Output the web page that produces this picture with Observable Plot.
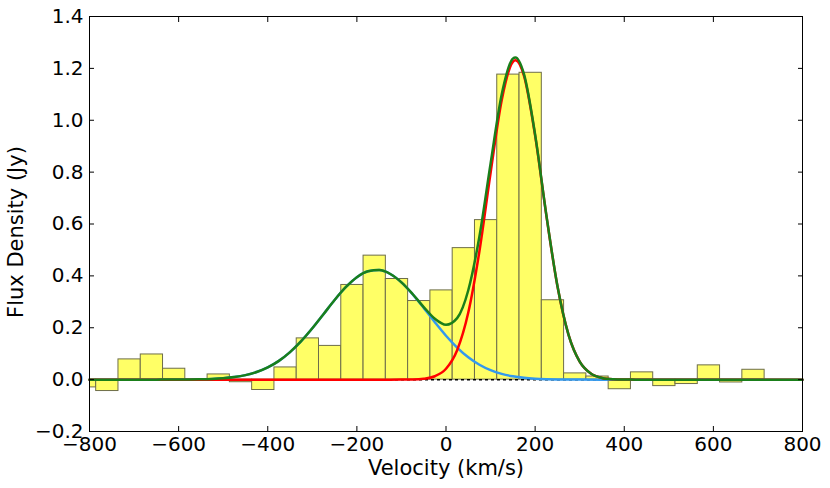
<!DOCTYPE html>
<html>
<head>
<meta charset="utf-8">
<script src="https://cdn.jsdelivr.net/npm/d3@7"></script>
<script src="https://cdn.jsdelivr.net/npm/@observablehq/plot@0.6"></script>
<style>
  html, body { margin: 0; padding: 0; background: #fff; }
  #chart svg { display: block; }
</style>
</head>
<body>
<div id="chart"></div>
<script>
// Histogram bins: centre velocity (km/s) and flux density (Jy)
const binCenters = [-810, -760, -710, -660, -610, -560, -510, -460, -410, -360,
  -310, -260, -210, -160, -110, -60, -10, 40, 90, 140, 190, 240, 290, 340, 390,
  440, 490, 540, 590, 640, 690];
const binFlux = [-0.030, -0.044, 0.078, 0.097, 0.042, -0.005, 0.020, -0.010, -0.040, 0.047,
  0.159, 0.130, 0.365, 0.478, 0.388, 0.303, 0.344, 0.507, 0.615, 1.176, 1.183, 0.306, 0.024, 0.012, -0.037,
  0.028, -0.025, -0.017, 0.055, -0.011, 0.038];
const binWidth = 50;

// Blue component
const blueV = [-800, -650, -625, -600, -575, -550, -525, -500, -475, -450, -425, -400, -375, -350, -325,
  -300, -275, -250, -225, -200, -175, -150, -125, -100, -75, -50, -25, 0, 25, 50, 75, 100, 125, 150,
  175, 200, 225, 250, 275, 300, 350, 800];
const blueF = [0, 0.0000, 0.0001, 0.0003, 0.0006, 0.0014, 0.0028, 0.0053, 0.0099, 0.0174, 0.0293, 0.0471, 0.0723, 0.1060, 0.1482,
  0.1978, 0.2521, 0.3068, 0.3562, 0.3949, 0.4179, 0.4222, 0.4072, 0.3749, 0.3295, 0.2764, 0.2214, 0.1693, 0.1236, 0.0861, 0.0572, 0.0363, 0.0220, 0.0127,
  0.0070, 0.0037, 0.0019, 0.0009, 0.0004, 0.0002, 0, 0];

// Red component
const redV = [-800, -125, -100, -75, -50, -25, 0, 25, 50, 75, 100, 125, 150, 156, 175, 200, 225, 250,
  275, 300, 325, 350, 375, 400, 425, 800];
const redF = [0, 0, 0.0001, 0.0007, 0.0034, 0.0130, 0.0419, 0.1135, 0.2585, 0.4949, 0.7963, 1.0772, 1.2249, 1.2310, 1.1708, 0.9407, 0.6354, 0.3608,
  0.1722, 0.0691, 0.0233, 0.0066, 0.0016, 0.0003, 0, 0];

// Total fit (green)
const greenV = [-800, -650, -625, -600, -575, -550, -525, -500, -475, -450, -425, -400, -375, -350, -325,
  -300, -275, -250, -225, -200, -175, -150, -125, -100, -75, -50, -25, 0, 25, 50, 75, 100, 125, 150, 156,
  175, 200, 225, 250, 275, 300, 325, 350, 375, 400, 425, 800];
const greenF = [0, 0.0000, 0.0001, 0.0003, 0.0006, 0.0014, 0.0028, 0.0053, 0.0099, 0.0174, 0.0293, 0.0471, 0.0723, 0.1060, 0.1482,
  0.1978, 0.2521, 0.3068, 0.3562, 0.3949, 0.4179, 0.4222, 0.4072, 0.3750, 0.3302, 0.2798, 0.2344, 0.2112, 0.2371, 0.3446, 0.5521, 0.8326, 1.0992, 1.2376, 1.2421,
  1.1778, 0.9444, 0.6373, 0.3617, 0.1726, 0.0693, 0.0233, 0.0066, 0.0016, 0.0003, 0, 0];

const xTicks = [-800, -600, -400, -200, 0, 200, 400, 600, 800];
const yTicks = [-0.2, 0.0, 0.2, 0.4, 0.6, 0.8, 1.0, 1.2, 1.4];
const xLabel = "Velocity (km/s)";
const yLabel = "Flux Density (Jy)";

const bins = binCenters.map((c, i) => ({x1: c - binWidth / 2, x2: c + binWidth / 2, y: binFlux[i]}));
const blue = blueV.map((v, i) => ({v, f: blueF[i]}));
const red = redV.map((v, i) => ({v, f: redF[i]}));
const green = greenV.map((v, i) => ({v, f: greenF[i]}));

const fmtY = d3.format(".1f");
const fmtX = d3.format("d");

const chart = Plot.plot({
  width: 830,
  height: 488,
  marginLeft: 89,
  marginRight: 28,
  marginTop: 16,
  marginBottom: 57,
  style: {fontFamily: "DejaVu Sans", fontSize: "20px", background: "white", color: "black"},
  x: {domain: [-800, 800]},
  y: {domain: [-0.2, 1.4]},
  marks: [
    Plot.rectY(bins, {x1: "x1", x2: "x2", y1: 0, y2: "y", fill: "#ffff66", stroke: "#6e6e4a", strokeWidth: 1, clip: true}),
    Plot.ruleY([0], {stroke: "black", strokeWidth: 1.5, strokeDasharray: "3,3"}),
    Plot.line(blue, {x: "v", y: "f", stroke: "#3399ee", strokeWidth: 2.5, curve: "monotone-x"}),
    Plot.line(red, {x: "v", y: "f", stroke: "#ff0000", strokeWidth: 2.5, curve: "monotone-x"}),
    Plot.line(green, {x: "v", y: "f", stroke: "#1a7f1a", strokeWidth: 2.5, curve: "monotone-x"}),
    Plot.frame({stroke: "black", strokeWidth: 1}),
    // tick labels
    Plot.axisY(yTicks, {anchor: "left", tickSize: 0, tickPadding: 6, tickFormat: fmtY, fontSize: 20, label: null}),
    Plot.axisX(xTicks, {anchor: "bottom", tickSize: 0, tickPadding: 5, tickFormat: fmtX, fontSize: 20, label: null}),
    // axis titles
    Plot.text([xLabel], {text: d => d, frameAnchor: "bottom", dy: 37, lineAnchor: "middle", fontSize: 21, fill: "black"}),
    Plot.text([yLabel], {text: d => d, frameAnchor: "left", dx: -73, dy: 8, rotate: -90, lineAnchor: "middle", textAnchor: "middle", fontSize: 21, fill: "black"}),
    // inward ticks on all four sides
    Plot.axisY(yTicks, {anchor: "left", tickSize: 5, dx: 5, tickFormat: () => "", label: null}),
    Plot.axisY(yTicks, {anchor: "right", tickSize: 5, dx: -5, tickFormat: () => "", label: null}),
    Plot.axisX(xTicks, {anchor: "bottom", tickSize: 5, dy: -5, tickFormat: () => "", label: null}),
    Plot.axisX(xTicks, {anchor: "top", tickSize: 5, dy: 5, tickFormat: () => "", label: null})
  ]
});
document.getElementById("chart").appendChild(chart);
</script>
</body>
</html>
